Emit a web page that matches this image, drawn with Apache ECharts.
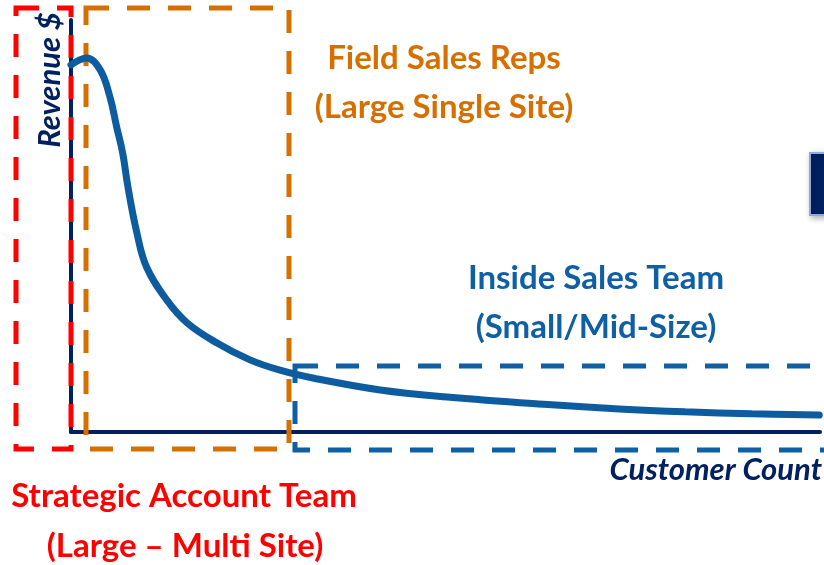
<!DOCTYPE html>
<html>
<head>
<meta charset="utf-8">
<script src="https://cdn.jsdelivr.net/npm/echarts@6/dist/echarts.min.js"></script>
<style>
  html,body{margin:0;padding:0;background:#fff;}
  #chart{width:824px;height:565px;}
</style>
</head>
<body>
<div id="chart"></div>
<script>
// customer count (0-100) vs revenue (0-100)
const customerCount=[0,2.1,3.9,5.2,6.1,6.9,7.6,8.8,10.1,12.8,15.5,19.5,23.9,27.9,32.3,41.3,50.2,64.2,73.2,82.0,90.9,99.9];
const revenue=[89.1,90.8,87.9,81.3,74.0,67.7,59.5,48.3,40.0,32.0,26.5,21.6,17.5,15.0,13.1,10.2,8.5,6.6,5.6,4.9,4.4,4.1];
const axisNames=['Revenue $','Customer Count'];
const segmentTitles=['Strategic Account Team','Field Sales Reps','Inside Sales Team'];
const segmentSubs=['(Large \u2013 Multi Site)','(Large Single Site)','(Small/Mid-Size)'];

const NAVY='#002060',RED='#ff0000',ORANGE='#d46f00',BLUE='#0f5fa5',CURVE='#0e5ca0';
const FONT='Lato';

const chart=echarts.init(document.getElementById('chart'));

function box(x,y,w,h,color){
  return {type:'rect',z:1,shape:{x:x,y:y,width:w,height:h},
    style:{fill:'none',stroke:color,lineWidth:5,lineDash:[23,18]}};
}
function label(text,x,y,color,size,opts){
  return Object.assign({type:'text',z:5,x:x,y:y,
    style:{text:text,fill:color,font:'bold '+size+'px '+FONT,align:'center',verticalAlign:'middle'}},opts||{});
}

chart.setOption({
  backgroundColor:'#fff',
  animation:false,
  grid:{left:71,right:4,top:20,bottom:133},
  xAxis:{type:'value',min:0,max:100,
    axisLine:{show:true,lineStyle:{color:NAVY,width:4}},
    axisTick:{show:false},axisLabel:{show:false},splitLine:{show:false}},
  yAxis:{type:'value',min:0,max:100,
    axisLine:{show:true,lineStyle:{color:NAVY,width:4}},
    axisTick:{show:false},axisLabel:{show:false},splitLine:{show:false}},
  series:[{
    type:'line',smooth:0.4,showSymbol:false,z:3,
    lineStyle:{color:CURVE,width:7,cap:'round'},
    data:customerCount.map((c,i)=>[c,revenue[i]])
  }],
  graphic:[
    box(16,8,55,441,RED),
    box(86,8,203,441,ORANGE),
    box(295,366,560,84,BLUE),
    {type:'rect',z:4,shape:{x:810,y:153,width:30,height:62},
      style:{fill:NAVY,stroke:'#8faadc',lineWidth:2,shadowBlur:6,shadowColor:'rgba(0,0,0,0.3)',shadowOffsetX:2,shadowOffsetY:2}},
    label(axisNames[0],50,80,NAVY,31,{rotation:Math.PI/2,style:{text:axisNames[0],fill:NAVY,font:'italic bold 31px '+FONT,align:'center',verticalAlign:'middle'}}),
    label(axisNames[1],822,470,NAVY,31,{style:{text:axisNames[1],fill:NAVY,font:'italic bold 31px '+FONT,align:'right',verticalAlign:'middle'}}),
    label(segmentTitles[1],444,58,ORANGE,33),
    label(segmentSubs[1],444,107,ORANGE,33),
    label(segmentTitles[2],596,278,BLUE,33),
    label(segmentSubs[2],596,327,BLUE,33),
    label(segmentTitles[0],184,496,RED,33),
    label(segmentSubs[0],185,546,RED,33)
  ]
});
</script>
</body>
</html>
